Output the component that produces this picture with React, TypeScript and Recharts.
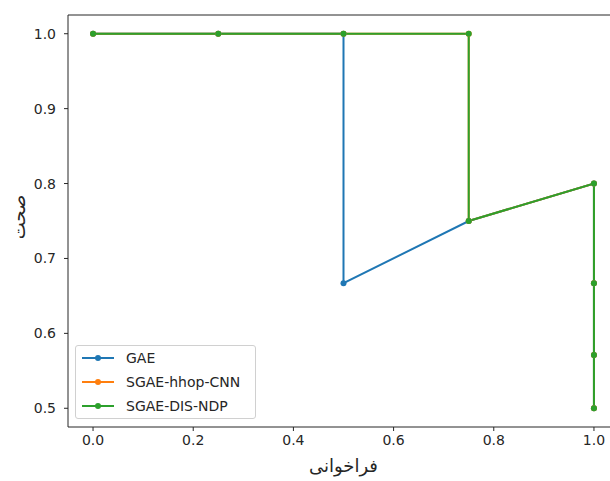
import { LineChart, Line, XAxis, YAxis, Legend, ReferenceLine } from 'recharts';

const FONT = 'DejaVu Sans, sans-serif';
const INK = '#262626';

const GAE_RECALL = [0, 0.25, 0.5, 0.5, 0.75, 1, 1, 1, 1];
const GAE_PRECISION = [1, 1, 1, 0.667, 0.75, 0.8, 0.667, 0.571, 0.5];

const HHOP_RECALL = [0, 0.25, 0.5, 0.75, 0.75, 1, 1, 1, 1];
const HHOP_PRECISION = [1, 1, 1, 1, 0.75, 0.8, 0.667, 0.571, 0.5];

const DIS_RECALL = [0, 0.25, 0.5, 0.75, 0.75, 1, 1, 1, 1];
const DIS_PRECISION = [1, 1, 1, 1, 0.75, 0.8, 0.667, 0.571, 0.5];

const X_TICKS = [0, 0.2, 0.4, 0.6, 0.8, 1.0];
const Y_TICKS = [0.5, 0.6, 0.7, 0.8, 0.9, 1.0];

const SERIES = [
  { name: 'GAE', color: '#1f77b4', x: GAE_RECALL, y: GAE_PRECISION },
  { name: 'SGAE-hhop-CNN', color: '#ff7f0e', x: HHOP_RECALL, y: HHOP_PRECISION },
  { name: 'SGAE-DIS-NDP', color: '#2ca02c', x: DIS_RECALL, y: DIS_PRECISION },
];

const toPoints = (xs: number[], ys: number[]) => xs.map((x, i) => ({ recall: x, precision: ys[i] }));

const tickStyle = { fill: INK, fontSize: 14, fontFamily: FONT };

function LegendBox() {
  return (
    <div
      style={{
        position: 'relative',
        width: 179,
        height: 72,
        border: '1px solid #d0d0d0',
        borderRadius: 3,
        background: 'rgba(255,255,255,0.8)',
        fontFamily: FONT,
        fontSize: 14,
        color: INK,
      }}
    >
      {SERIES.map((s, i) => (
        <div key={s.name} style={{ position: 'absolute', left: 0, top: i * 24, height: 24, display: 'flex', alignItems: 'center' }}>
          <svg width={50} height={24}>
            <line x1={6} x2={38} y1={12} y2={12} stroke={s.color} strokeWidth={2} />
            <circle cx={22} cy={12} r={3} fill={s.color} />
          </svg>
          <span style={{ whiteSpace: 'nowrap' }}>{s.name}</span>
        </div>
      ))}
    </div>
  );
}

export default function App() {
  return (
    <div style={{ position: 'absolute', left: 0, top: 0, width: 610, height: 481, overflow: 'hidden', background: '#fff' }}>
      <LineChart width={640} height={481} margin={{ top: 15, right: 21, bottom: 0, left: 0 }}>
        <XAxis
          type="number"
          dataKey="recall"
          domain={[-0.05, 1.05]}
          ticks={X_TICKS}
          tickFormatter={(v: number) => v.toFixed(1)}
          allowDuplicatedCategory
          height={54}
          stroke={INK}
          tickSize={4}
          tickMargin={4}
          tick={tickStyle}
          label={(props: any) => {
            const vb = props.viewBox;
            return (
              <text x={vb.x + vb.width / 2} y={472} textAnchor="middle" fontFamily={FONT} fontSize={18} fill={INK}>
                فراخوانی
              </text>
            );
          }}
        />
        <YAxis
          type="number"
          dataKey="precision"
          domain={[0.475, 1.025]}
          ticks={Y_TICKS}
          tickFormatter={(v: number) => v.toFixed(1)}
          width={68}
          stroke={INK}
          tickSize={4}
          tickMargin={8}
          tick={tickStyle}
          label={(props: any) => {
            const vb = props.viewBox;
            const cy = vb.y + vb.height / 2 - 4;
            return (
              <text x={18} y={cy} transform={`rotate(-90 18 ${cy})`} textAnchor="middle" dominantBaseline="central" fontFamily={FONT} fontSize={18} fill={INK}>
                صحت
              </text>
            );
          }}
        />
        {/* top spine */}
        <ReferenceLine y={1.025} stroke={INK} strokeWidth={1} ifOverflow="visible" />
        {SERIES.map((s) => (
          <Line
            key={s.name}
            name={s.name}
            data={toPoints(s.x, s.y)}
            dataKey="precision"
            type="linear"
            stroke={s.color}
            strokeWidth={2}
            dot={{ r: 3, fill: s.color, stroke: s.color, strokeWidth: 0 }}
            activeDot={false}
            isAnimationActive={false}
          />
        ))}
        <Legend
          layout="horizontal"
          verticalAlign="middle"
          align="center"
          content={() => <LegendBox />}
          wrapperStyle={{ left: 75, top: 345, width: 181, height: 74 }}
        />
      </LineChart>
    </div>
  );
}
